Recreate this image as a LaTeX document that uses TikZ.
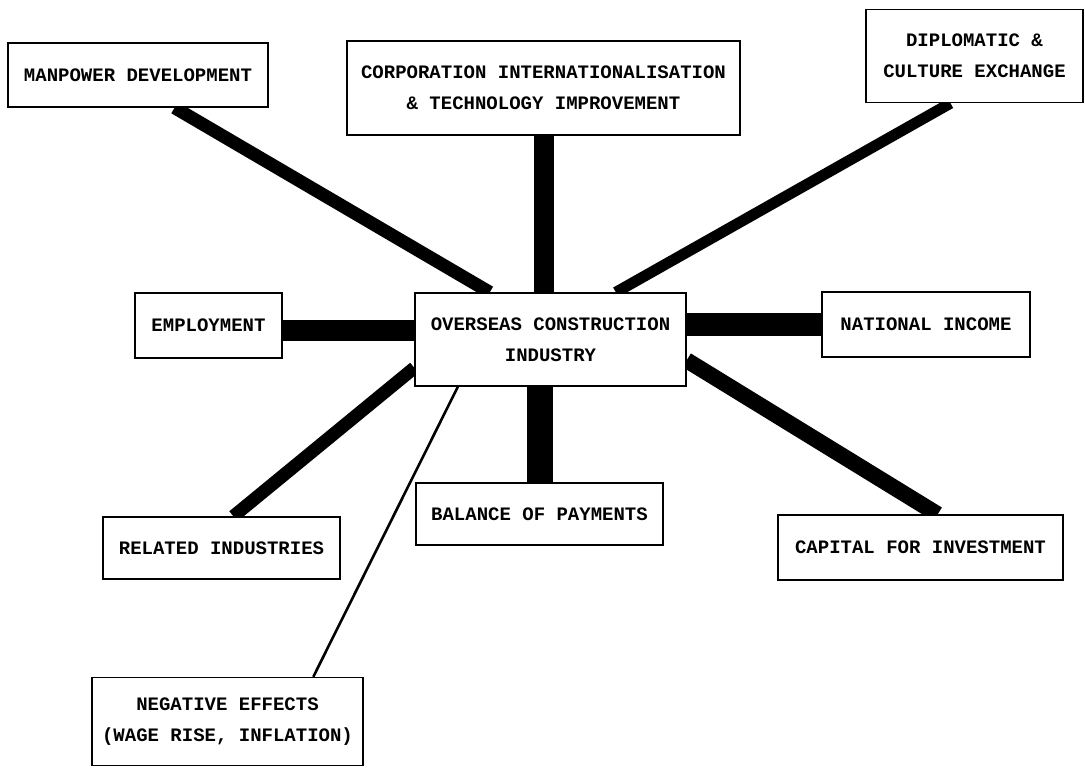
\documentclass[tikz,border=0pt]{standalone}
\usepackage{fontspec}
\setmonofont{Liberation Mono}
\usepackage{tikz}
\usetikzlibrary{calc,backgrounds}

\begin{document}
\begin{tikzpicture}[
    x=1pt, y=-1pt,
    every node/.style={font=\ttfamily\bfseries\fontsize{19}{31}\selectfont, align=center},
    box/.style={draw=black, line width=1.4pt, fill=white, inner sep=0pt},
    bar/.style={line width=#1, color=black},
    bar/.default=14pt,
    thinlink/.style={line width=2.6pt, color=black}
  ]
    \useasboundingbox (0,0) rectangle (1085,776);

    \node[box, minimum width=260pt, minimum height=64pt] (manpower) at (138,75) {MANPOWER DEVELOPMENT};
    \node[box, minimum width=393pt, minimum height=94pt] (corp) at (543.5,88) {CORPORATION INTERNATIONALISATION\\\&\ TECHNOLOGY IMPROVEMENT};
    \node[box, minimum width=217pt, minimum height=93pt] (diplo) at (974.5,56) {DIPLOMATIC \&\\CULTURE EXCHANGE};
    \node[box, minimum width=147pt, minimum height=65pt] (employ) at (208.5,325.5) {EMPLOYMENT};
    \node[box, minimum width=271pt, minimum height=93pt] (ind) at (550.5,339.5) {OVERSEAS CONSTRUCTION\\INDUSTRY};
    \node[box, minimum width=208pt, minimum height=65pt] (natinc) at (926,324.5) {NATIONAL INCOME};
    \node[box, minimum width=237pt, minimum height=62pt] (related) at (221.5,548) {RELATED INDUSTRIES};
    \node[box, minimum width=247pt, minimum height=62pt] (balance) at (539.5,514) {BALANCE OF PAYMENTS};
    \node[box, minimum width=285pt, minimum height=65pt] (capital) at (920.5,547.5) {CAPITAL FOR INVESTMENT};
    \node[box, minimum width=271pt, minimum height=88pt] (negative) at (227.5,721.5) {NEGATIVE EFFECTS\\(WAGE RISE, INFLATION)};

    \begin{scope}[on background layer]
    \draw[bar=13pt] ($(manpower.south west)!.64!(manpower.south east)$) -- ($(ind.north west)!.277!(ind.north east)$);
    \draw[bar=20pt] (corp.south) -- (corp.south |- ind.north);
    \draw[bar=11pt] ($(diplo.south west)!.39!(diplo.south east)$) -- ($(ind.north west)!.74!(ind.north east)$);
    \draw[bar=21pt] ($(employ.east)+(0,4.5)$) -- ($(employ.east -| ind.west)+(0,4.5)$);
    \draw[bar=23pt] (ind.east |- natinc.west) -- (natinc.west);
    \draw[bar=13pt] ($(related.north west)!.55!(related.north east)$) -- ($(ind.north west)!.8!(ind.south west)$);
    \draw[bar=26pt] (balance.north) -- (balance.north |- ind.south);
    \draw[bar=16pt] ($(ind.north east)!.72!(ind.south east)$) -- ($(capital.north west)!.56!(capital.north east)$);
    \draw[thinlink] ($(ind.south west)!.16!(ind.south east)$) -- ($(negative.north west)!.815!(negative.north east)$);
    \end{scope}
  \end{tikzpicture}
\end{document}
